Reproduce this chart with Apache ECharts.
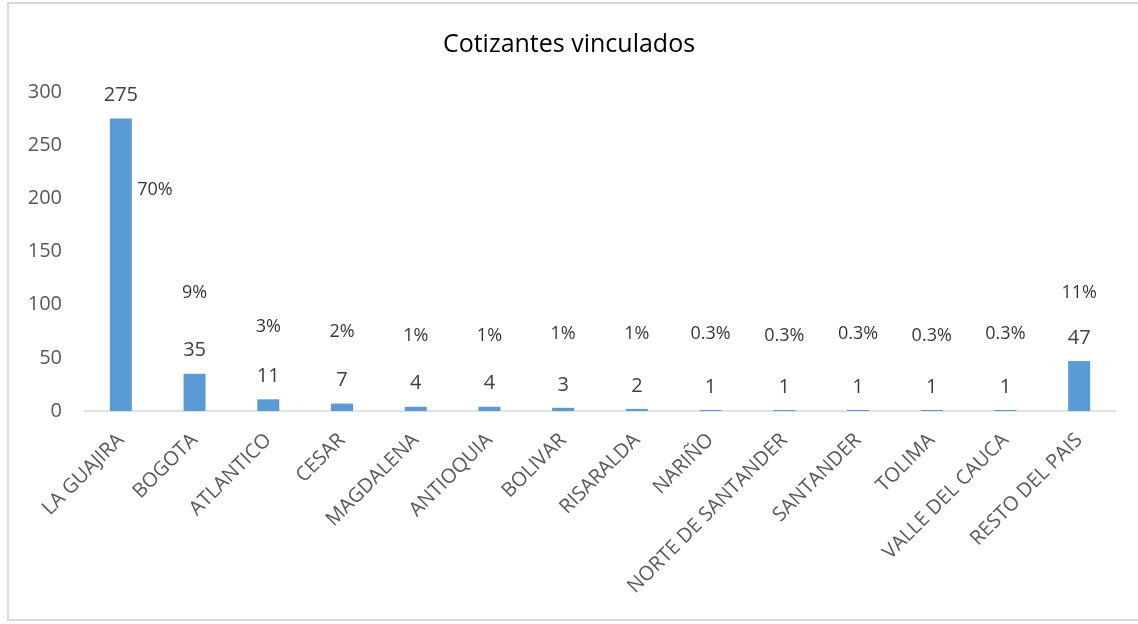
<!DOCTYPE html>
<html>
<head>
<meta charset="utf-8">
<style>
  body { margin: 0; background: #fff; }
  #frame { position: absolute; left: 7px; top: 2px; width: 1140px; height: 619px; border: 2px solid #d9d9d9; box-sizing: border-box; }
  #main { position: absolute; left: 0; top: 0; width: 1138px; height: 624px; }
</style>
</head>
<body>
<div id="frame"></div>
<div id="main"></div>
<script src="https://cdn.jsdelivr.net/npm/echarts@6/dist/echarts.min.js"></script>
<script type="text/javascript">

    // datos
    var categorias = ['LA GUAJIRA', 'BOGOTA', 'ATLANTICO', 'CESAR', 'MAGDALENA', 'ANTIOQUIA', 'BOLIVAR',
        'RISARALDA', 'NARIÑO', 'NORTE DE SANTANDER', 'SANTANDER', 'TOLIMA', 'VALLE DEL CAUCA', 'RESTO DEL PAIS'];
    var cotizantes = [275, 35, 11, 7, 4, 4, 3, 2, 1, 1, 1, 1, 1, 47];
    var porcentajes = ['70%', '9%', '3%', '2%', '1%', '1%', '1%', '1%', '0.3%', '0.3%', '0.3%', '0.3%', '0.3%', '11%'];
    // altura (en unidades del eje) donde va cada etiqueta de porcentaje
    var alturaPct = [208, 111, 79, 74, 71, 71, 73, 73, 73, 71, 73, 71, 73, 111];

    var myChart = echarts.init(document.getElementById('main'));
    var fuente = 'Open Sans';

    var pctData = [];
    porcentajes.forEach(function(p, i){
        var item = { value: [i, alturaPct[i]], name: p };
        if(i === 0){
            item.label = { offset: [34, 0] };
        }
        pctData.push(item);
    });

    var option = {
        title: {
            text: 'Cotizantes vinculados',
            left: 'center',
            top: 27,
            textStyle: { fontFamily: fuente, fontSize: 25, fontWeight: 'normal', color: '#000' }
        },
        grid: { left: 84, right: 22, top: 92, bottom: 213 },
        xAxis: {
            type: 'category',
            data: categorias,
            axisLine: { lineStyle: { color: '#d9d9d9', width: 1.5 } },
            axisTick: { show: false },
            axisLabel: {
                rotate: 45, interval: 0, margin: 26,
                fontFamily: fuente, fontSize: 20, color: '#595959'
            }
        },
        yAxis: {
            type: 'value',
            min: 0, max: 300, interval: 50,
            splitLine: { show: false },
            axisLine: { show: false },
            axisTick: { show: false },
            axisLabel: { fontFamily: fuente, fontSize: 20, color: '#595959', margin: 22 }
        },
        series: [{
            type: 'bar',
            data: cotizantes,
            barWidth: 22,
            itemStyle: { color: '#5b9bd5' },
            label: {
                show: true, position: 'top', distance: 13,
                fontFamily: fuente, fontSize: 20, color: '#404040'
            },
            z: 2
        }, {
            type: 'scatter',
            data: pctData,
            symbolSize: 0,
            silent: true,
            label: {
                show: true, position: 'inside',
                formatter: function(p){ return p.name; },
                fontFamily: fuente, fontSize: 18, color: '#000'
            },
            z: 3
        }]
    };
    myChart.setOption(option);
</script>
</body>
</html>
